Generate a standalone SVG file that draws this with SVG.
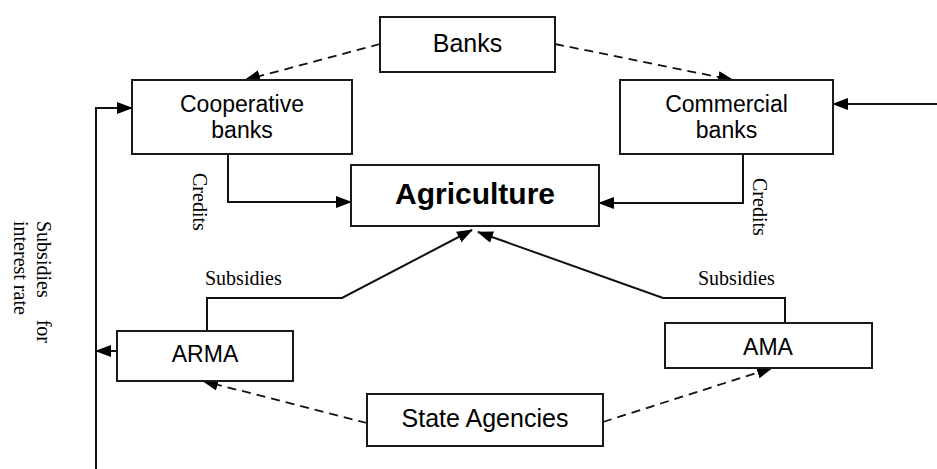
<svg xmlns="http://www.w3.org/2000/svg" width="937" height="469" viewBox="0 0 937 469">
<style>
.box{fill:#fff;stroke:#1a1a1a;stroke-width:2}
.sans{font-family:"Liberation Sans",Arial,sans-serif;fill:#000;text-anchor:middle}
.serif{font-family:"Liberation Serif","Times New Roman",serif;fill:#000;font-size:20px}
.ln{fill:none;stroke:#111;stroke-width:2}
.dash{fill:none;stroke:#111;stroke-width:1.8;stroke-dasharray:9,6}
</style>
<defs>
<marker id="ah" markerUnits="userSpaceOnUse" markerWidth="16" markerHeight="12" refX="15" refY="6" orient="auto">
<path d="M0,0 L16,6 L0,12 Z" fill="#000"/>
</marker>
</defs>
<g id="connectors">
<line class="dash" x1="380" y1="44" x2="245" y2="80" marker-end="url(#ah)"/>
<line class="dash" x1="555" y1="44" x2="733" y2="80" marker-end="url(#ah)"/>
<polyline class="ln" points="228,154 228,202 351,202" marker-end="url(#ah)"/>
<polyline class="ln" points="743,154 743,203 599,203" marker-end="url(#ah)"/>
<line class="ln" x1="937" y1="104" x2="833" y2="104" marker-end="url(#ah)"/>
<polyline class="ln" points="207,331 207,298 342,298 472,230" marker-end="url(#ah)"/>
<polyline class="ln" points="785,323 785,298 663,298 478,232" marker-end="url(#ah)"/>
<line class="ln" x1="96" y1="469" x2="96" y2="108"/>
<line class="ln" x1="95" y1="108" x2="132" y2="108" marker-end="url(#ah)"/>
<line class="ln" x1="117" y1="351" x2="96" y2="351" marker-end="url(#ah)"/>
<line class="dash" x1="367" y1="423" x2="203" y2="381" marker-end="url(#ah)"/>
<line class="dash" x1="603" y1="422" x2="772" y2="368" marker-end="url(#ah)"/>
<text class="serif" transform="translate(193,173) rotate(90)">Credits</text>
<text class="serif" transform="translate(753,178) rotate(90)">Credits</text>
<text class="serif" x="205" y="285">Subsidies</text>
<text class="serif" x="698" y="285">Subsidies</text>
<text class="serif" transform="translate(37,221) rotate(90)" word-spacing="17">Subsidies for</text>
<text class="serif" transform="translate(13.5,221) rotate(90)">interest rate</text>
</g>
<g id="banks">
<rect class="box" x="380" y="17" width="175" height="55"/>
<text class="sans" x="467.5" y="52" font-size="25">Banks</text>
</g>
<g id="cooperative">
<rect class="box" x="132" y="80" width="220" height="74"/>
<text class="sans" x="242" y="112" font-size="23">Cooperative</text>
<text class="sans" x="242" y="138" font-size="23">banks</text>
</g>
<g id="commercial">
<rect class="box" x="620" y="80" width="213" height="74"/>
<text class="sans" x="726.5" y="112" font-size="23">Commercial</text>
<text class="sans" x="726.5" y="138" font-size="23">banks</text>
</g>
<g id="agriculture">
<rect class="box" x="351" y="165" width="248" height="61"/>
<text class="sans" x="475" y="204" font-size="30" font-weight="bold">Agriculture</text>
</g>
<g id="arma">
<rect class="box" x="117" y="331" width="176" height="50"/>
<text class="sans" x="205" y="362" font-size="23">ARMA</text>
</g>
<g id="ama">
<rect class="box" x="665" y="323" width="207" height="45"/>
<text class="sans" x="768" y="355" font-size="23">AMA</text>
</g>
<g id="state">
<rect class="box" x="367" y="394" width="236" height="52"/>
<text class="sans" x="485" y="427" font-size="25">State Agencies</text>
</g>
</svg>
